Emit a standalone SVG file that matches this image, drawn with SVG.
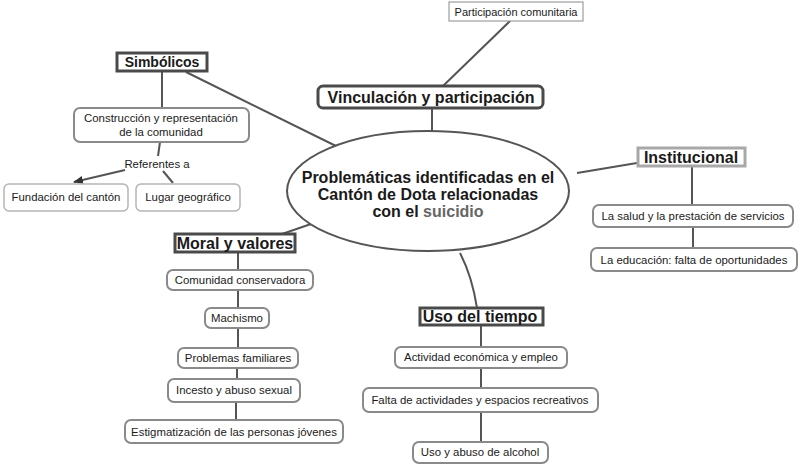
<svg xmlns="http://www.w3.org/2000/svg" width="800" height="469" viewBox="0 0 800 469">
<style>
text{font-family:"Liberation Sans",Arial,sans-serif;fill:#1a1a1a}
.t{font-size:11.4px;text-anchor:middle}
.h{font-size:16px;font-weight:bold;text-anchor:middle}
.n{fill:#fff;stroke:#8a8a8a;stroke-width:2}
.nl{fill:#fff;stroke:#b5b5b5;stroke-width:1.5}
.hd{fill:#fff;stroke:#4a4a4a;stroke-width:3}
.hl{fill:#fff;stroke:#a8a8a8;stroke-width:3}
.c{fill:none;stroke:#555;stroke-width:2}
</style>
<defs>
<marker id="arr" viewBox="0 0 10 10" refX="9" refY="5" markerWidth="5" markerHeight="5" orient="auto">
<path d="M0,1 L10,5 L0,9 z" fill="#333"/>
</marker>
</defs>
<rect width="800" height="469" fill="#fff"/>
<g id="connectors">
<line class="c" x1="162" y1="70" x2="162" y2="108"/>
<line class="c" x1="160" y1="142" x2="158" y2="156"/>
<line class="c" x1="125" y1="170" x2="74" y2="182" marker-end="url(#arr)"/>
<line class="c" x1="163" y1="171" x2="173" y2="183"/>
<line class="c" x1="186" y1="72" x2="338" y2="147"/>
<line class="c" x1="510" y1="21" x2="443" y2="86"/>
<line class="c" x1="432" y1="108" x2="432" y2="131"/>
<line class="c" x1="577" y1="173" x2="637" y2="163"/>
<line class="c" x1="692" y1="166" x2="692" y2="205"/>
<line class="c" x1="693" y1="227" x2="693" y2="248"/>
<line class="c" x1="282" y1="234" x2="311" y2="224"/>
<line class="c" x1="238" y1="252" x2="238" y2="270"/>
<line class="c" x1="238" y1="290" x2="238" y2="308"/>
<line class="c" x1="238" y1="328" x2="238" y2="348"/>
<line class="c" x1="237" y1="368" x2="237" y2="379"/>
<line class="c" x1="236" y1="402" x2="236" y2="420"/>
<path class="c" d="M460,253 Q472,276 477,308"/>
<line class="c" x1="481" y1="325" x2="481" y2="347"/>
<line class="c" x1="481" y1="368" x2="481" y2="388"/>
<line class="c" x1="481" y1="412" x2="481" y2="442"/>
</g>
<g id="center">
<ellipse cx="428" cy="191" rx="141" ry="60" fill="#fff" stroke="#555" stroke-width="2"/>
<text class="h" x="428" y="183">Problemáticas identificadas en el</text>
<text class="h" x="428" y="200">Cantón de Dota relacionadas</text>
<text class="h" x="428" y="217">con el <tspan fill="#666">suicidio</tspan></text>
</g>
<g id="simbolicos">
<rect class="hd" x="117" y="53" width="90" height="18" stroke="#555"/>
<text class="h" x="162" y="67" style="font-size:14px">Simbólicos</text>
</g>
<g id="construccion">
<rect class="n" x="74" y="108" width="175" height="34" rx="6"/>
<text class="t" x="161" y="122">Construcción y representación</text>
<text class="t" x="161" y="136">de la comunidad</text>
</g>
<g id="referentes">
<text class="t" x="157" y="168">Referentes a</text>
</g>
<g id="fundacion">
<rect class="nl" x="4" y="184" width="124" height="27" rx="5"/>
<text class="t" x="66" y="201">Fundación del cantón</text>
</g>
<g id="lugar">
<rect class="nl" x="136" y="184" width="104" height="27" rx="5"/>
<text class="t" x="188" y="201">Lugar geográfico</text>
</g>
<g id="participacion">
<rect x="449" y="2" width="134" height="19" fill="#fff" stroke="#8a8a8a" stroke-width="1"/>
<text class="t" x="516" y="16" style="font-size:11px">Participación comunitaria</text>
</g>
<g id="vinculacion">
<rect class="hd" x="318" y="86" width="225" height="22" rx="5" stroke="#555" stroke-width="3.5"/>
<text class="h" x="431" y="103">Vinculación y participación</text>
</g>
<g id="institucional">
<rect class="hl" x="638" y="148" width="107" height="18"/>
<text class="h" x="691" y="163">Institucional</text>
</g>
<g id="salud">
<rect class="n" x="593" y="205" width="200" height="22" rx="6"/>
<text class="t" x="693" y="220">La salud y la prestación de servicios</text>
</g>
<g id="educacion">
<rect class="n" x="591" y="248" width="206" height="23" rx="6"/>
<text class="t" x="694" y="264">La educación: falta de oportunidades</text>
</g>
<g id="moral">
<rect class="hd" x="175" y="234" width="120" height="18"/>
<text class="h" x="235" y="249">Moral y valores</text>
</g>
<g id="comunidad">
<rect class="n" x="167" y="270" width="146" height="20" rx="6"/>
<text class="t" x="240" y="284">Comunidad conservadora</text>
</g>
<g id="machismo">
<rect class="n" x="205" y="308" width="64" height="20" rx="6"/>
<text class="t" x="237" y="322">Machismo</text>
</g>
<g id="problemas">
<rect class="n" x="178" y="348" width="120" height="20" rx="6"/>
<text class="t" x="238" y="362">Problemas familiares</text>
</g>
<g id="incesto">
<rect class="n" x="168" y="379" width="132" height="23" rx="6"/>
<text class="t" x="234" y="394">Incesto y abuso sexual</text>
</g>
<g id="estigmatizacion">
<rect class="n" x="125" y="420" width="218" height="23" rx="6"/>
<text class="t" x="234" y="436">Estigmatización de las personas jóvenes</text>
</g>
<g id="usotiempo">
<rect class="hd" x="420" y="308" width="123" height="17"/>
<text class="h" x="480" y="322">Uso del tiempo</text>
</g>
<g id="actividad">
<rect class="n" x="395" y="347" width="172" height="21" rx="6"/>
<text class="t" x="481" y="361">Actividad económica y empleo</text>
</g>
<g id="falta">
<rect class="n" x="363" y="388" width="235" height="24" rx="6"/>
<text class="t" x="480" y="404">Falta de actividades y espacios recreativos</text>
</g>
<g id="alcohol">
<rect class="n" x="413" y="442" width="135" height="21" rx="6"/>
<text class="t" x="480" y="456">Uso y abuso de alcohol</text>
</g>
</svg>
